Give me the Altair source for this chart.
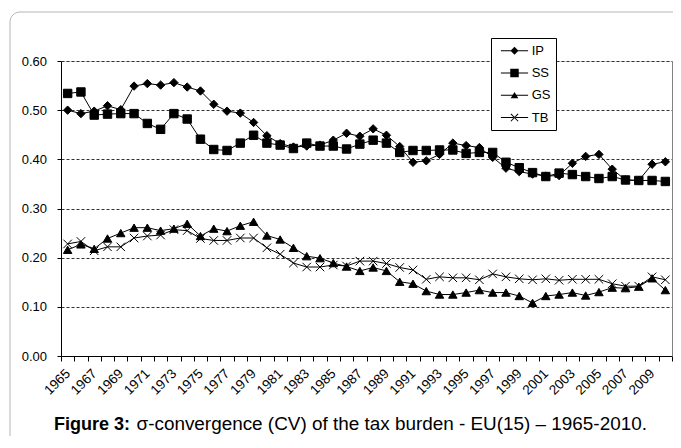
import altair as alt
import pandas as pd

years = list(range(1965, 2011))

ip = [0.500, 0.493, 0.498, 0.509, 0.501, 0.549, 0.554, 0.551, 0.556, 0.547,
      0.539, 0.512, 0.498, 0.494, 0.475, 0.448, 0.432, 0.425, 0.427, 0.429,
      0.439, 0.453, 0.447, 0.462, 0.449, 0.426, 0.394, 0.397, 0.410, 0.433,
      0.428, 0.424, 0.404, 0.382, 0.375, 0.370, 0.366, 0.367, 0.392, 0.406,
      0.410, 0.380, 0.358, 0.357, 0.390, 0.395]

ss = [0.534, 0.537, 0.490, 0.492, 0.493, 0.493, 0.473, 0.461, 0.493, 0.482,
      0.441, 0.420, 0.418, 0.433, 0.449, 0.433, 0.429, 0.422, 0.433, 0.427,
      0.427, 0.421, 0.431, 0.439, 0.433, 0.414, 0.418, 0.418, 0.419, 0.419,
      0.412, 0.414, 0.414, 0.394, 0.383, 0.373, 0.365, 0.372, 0.369, 0.365,
      0.361, 0.365, 0.358, 0.357, 0.357, 0.355]

gs = [0.216, 0.227, 0.218, 0.239, 0.250, 0.261, 0.261, 0.255, 0.259, 0.269,
      0.244, 0.259, 0.254, 0.265, 0.273, 0.245, 0.237, 0.220, 0.203, 0.199,
      0.189, 0.182, 0.173, 0.180, 0.173, 0.151, 0.147, 0.132, 0.125, 0.125,
      0.129, 0.134, 0.129, 0.129, 0.122, 0.108, 0.122, 0.125, 0.129, 0.123,
      0.130, 0.139, 0.138, 0.141, 0.158, 0.134]

tb = [0.228, 0.233, 0.214, 0.222, 0.222, 0.240, 0.244, 0.246, 0.257, 0.255,
      0.239, 0.235, 0.235, 0.240, 0.240, 0.220, 0.207, 0.189, 0.181, 0.181,
      0.185, 0.183, 0.193, 0.193, 0.188, 0.180, 0.175, 0.156, 0.161, 0.159,
      0.159, 0.155, 0.167, 0.161, 0.157, 0.155, 0.157, 0.154, 0.156, 0.156,
      0.156, 0.147, 0.142, 0.142, 0.161, 0.155]

series_names = ["IP", "SS", "GS", "TB"]
y_ticks = [0.0, 0.1, 0.2, 0.3, 0.4, 0.5, 0.6]
caption_bold = "Figure 3:"
caption_rest = "\u03c3-convergence (CV) of the tax burden - EU(15) \u2013 1965-2010."

rows = []
for name, vals in zip(series_names, [ip, ss, gs, tb]):
    for yr, v in zip(years, vals):
        rows.append({"year": yr, "value": v, "series": name})
df = pd.DataFrame(rows)

W, H = 611, 295
FONT = "Liberation Sans"
step = W / 46.0

x_scale = alt.Scale(domain=[1964.5, 2010.5], nice=False, zero=False)
x_bounds = [1964.5 + i for i in range(47)]
x_axis = alt.Axis(
    values=x_bounds, title=None, grid=False, tickSize=5, tickColor="black",
    domainColor="black", labelAngle=-45, labelAlign="right",
    labelBaseline="middle", labelOffset=step / 2, labelPadding=10,
    labelFlush=False, labelOverlap=False, labelFont=FONT, labelFontSize=13.5,
    labelColor="black",
    labelExpr="((datum.value + 0.5) % 2 == 1 && datum.value < 2009.6) ? '' + (datum.value + 0.5) : ''",
)
x_enc = alt.X("year:Q", scale=x_scale, axis=x_axis)

y_scale = alt.Scale(domain=[0, 0.6], nice=False)
y_left = alt.Y(
    "value:Q", scale=y_scale,
    axis=alt.Axis(
        values=y_ticks, format=".2f", title=None, grid=True, gridDash=[3, 2],
        gridColor="#333333", gridWidth=1, tickSize=4, tickColor="black",
        domainColor="black", labelFont=FONT, labelFontSize=13, labelColor="black",
        labelPadding=10.5,
    ),
)
y_right = alt.Y(
    "value:Q", scale=y_scale,
    axis=alt.Axis(orient="right", labels=False, ticks=False, grid=False,
                  title=None, domainColor="#808080"),
)

X_PATH = "M-1,-1L1,1M-1,1L1,-1"
LINE = "M-1.7,-0.065H1.7V0.065H-1.7Z"
legend_paths = [
    LINE + "M0,-0.5L0.5,0L0,0.5L-0.5,0Z",
    LINE + "M-0.53,-0.53H0.53V0.53H-0.53Z",
    LINE + "M0,-0.42L0.48,0.36H-0.48Z",
    LINE + "M-0.41,-0.5L0.5,0.41L0.41,0.5L-0.5,-0.41Z"
           "M-0.41,0.5L0.5,-0.41L0.41,-0.5L-0.5,0.41Z",
]

legend = alt.Legend(
    title=None, orient="none", legendX=430, legendY=-23, padding=4.7,
    symbolOffset=10.8, labelOffset=9.2, rowPadding=7.3, labelFont=FONT,
    labelFontSize=13, labelColor="black", strokeColor="black",
    fillColor="white", symbolSize=256, symbolFillColor="black",
    symbolStrokeWidth=0, symbolOpacity=1,
    labelExpr="datum.label + '\u00a0\u00a0'",
)

base = alt.Chart(df)

lines = base.mark_line(color="black", strokeWidth=1).encode(
    x=x_enc, y=y_left, detail="series:N"
)

points = base.mark_point(filled=True, fill="black", stroke="black",
                         strokeWidth=1, opacity=1).encode(
    x=x_enc,
    y=y_right,
    shape=alt.Shape("series:N",
                    scale=alt.Scale(domain=series_names,
                                    range=["diamond", "square", "triangle-up", X_PATH]),
                    legend=None),
    size=alt.Size("series:N",
                  scale=alt.Scale(domain=series_names, range=[70, 72, 62, 56]),
                  legend=None),
)

# legend-only layer: no rows pass the filter, the shape scale keeps its domain
legend_layer = base.transform_filter("datum.year < 0").mark_point(
    filled=True, fill="black", opacity=1
).encode(
    x=x_enc, y=alt.Y("value:Q", scale=y_scale, axis=None),
    shape=alt.Shape("series:N",
                    scale=alt.Scale(domain=series_names, range=legend_paths),
                    legend=legend),
)

frame_df = pd.DataFrame({"k": [0]})
frame = alt.Chart(frame_df).mark_rect(
    fill=None, stroke="#b5b5b5", strokeWidth=1, cornerRadius=10
).encode(x=alt.value(-51), x2=alt.value(W + 60), y=alt.value(-49), y2=alt.value(H + 120))

cap1 = alt.Chart(pd.DataFrame({"t": [caption_bold]})).mark_text(
    font=FONT, fontSize=18, fontWeight="bold", align="left", baseline="alphabetic",
    color="black"
).encode(text="t:N", x=alt.value(-7), y=alt.value(H + 74))

cap2 = alt.Chart(pd.DataFrame({"t": [caption_rest]})).mark_text(
    font=FONT, fontSize=18.9, align="left", baseline="alphabetic", color="black"
).encode(text="t:N", x=alt.value(75.5), y=alt.value(H + 74))

chart = alt.layer(frame, lines, points, legend_layer, cap1, cap2).resolve_scale(
    y="shared", x="shared", shape="independent", size="independent"
).resolve_axis(y="independent").properties(
    width=W, height=H,
    autosize=alt.AutoSizeParams(type="none"),
    padding={"left": 53, "top": 53, "right": 1, "bottom": 80},
).configure_view(stroke=None).configure_axisX(labelOverlap=False).configure(
    background="white"
)

chart.save("out.html", embed_options={"renderer": "svg", "actions": False})
